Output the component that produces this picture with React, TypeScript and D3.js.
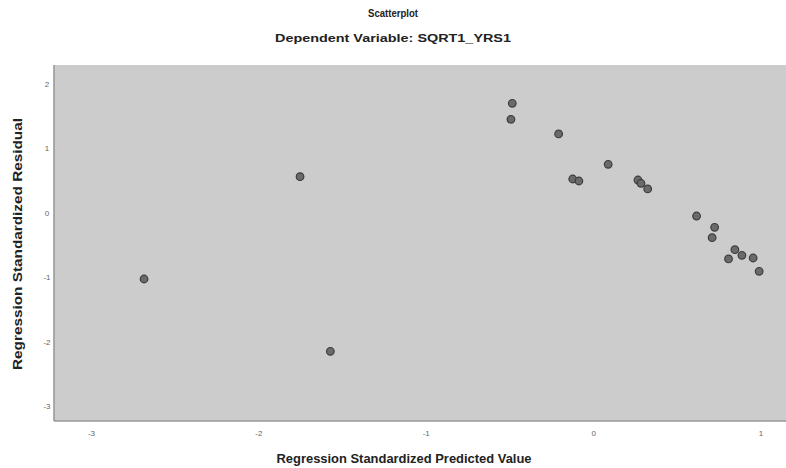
import React from "react";
import * as d3 from "d3";

const predicted = [-2.686, -1.754, -1.573, -0.486, -0.494, -0.209, -0.125, -0.088, 0.087, 0.265, 0.283, 0.323, 0.615, 0.723, 0.708, 0.844, 0.886, 0.806, 0.953, 0.989];
const residual = [-1.028, 0.561, -2.151, 1.7, 1.452, 1.224, 0.525, 0.494, 0.753, 0.509, 0.458, 0.37, -0.05, -0.225, -0.387, -0.573, -0.66, -0.717, -0.702, -0.908];
const xTicks = [-3, -2, -1, 0, 1];
const yTicks = [2, 1, 0, -1, -2, -3];

const W = 786;
const H = 468;

export default function App() {
  const x = d3.scaleLinear().domain([-3, 1]).range([91.5, 761]);
  const y = d3.scaleLinear().domain([2, -3]).range([84, 406]);
  const left = x(-3.224);
  const right = W;
  const top = y(2.295);
  const bottom = y(-3.233);
  const pts = predicted.map((p, i) => ({ p, r: residual[i] }));
  const font = "'Liberation Sans', Arial, sans-serif";
  return (
    <svg width={W} height={H} style={{ position: "absolute", left: 0, top: 0, background: "#fff" }} fontFamily={font}>
      <text x={393} y={17} textAnchor="middle" fontSize={11} fontWeight="bold" fill="#222" textLength={50} lengthAdjust="spacingAndGlyphs">Scatterplot</text>
      <text x={393} y={42} textAnchor="middle" fontSize={11.5} fontWeight="bold" fill="#222" textLength={236} lengthAdjust="spacingAndGlyphs">Dependent Variable: SQRT1_YRS1</text>
      <rect x={left} y={top} width={right - left} height={bottom - top} fill="#cccccc" />
      <line x1={left} x2={left} y1={top} y2={bottom} stroke="#999" strokeWidth={1.6} />
      <line x1={left} x2={right} y1={bottom} y2={bottom} stroke="#999" strokeWidth={1.6} />
      {yTicks.map((t) => (
        <text key={"y" + t} x={47} y={y(t) + 3} textAnchor="middle" fontSize={8} fill="#666">{t}</text>
      ))}
      {xTicks.map((t) => (
        <text key={"x" + t} x={x(t)} y={436} textAnchor="middle" fontSize={8} fill="#666">{t}</text>
      ))}
      {pts.map((d, i) => (
        <circle key={i} cx={x(d.p)} cy={y(d.r)} r={3.8} fill="#6a6a6a" stroke="#3c3c3c" strokeWidth={1.2} />
      ))}
      <text x={404} y={463} textAnchor="middle" fontSize={12} fontWeight="bold" fill="#222" textLength={255} lengthAdjust="spacingAndGlyphs">Regression Standardized Predicted Value</text>
      <text transform={`translate(22, 244) rotate(-90)`} textAnchor="middle" fontSize={12} fontWeight="bold" fill="#222" textLength={252} lengthAdjust="spacingAndGlyphs">Regression Standardized Residual</text>
    </svg>
  );
}
